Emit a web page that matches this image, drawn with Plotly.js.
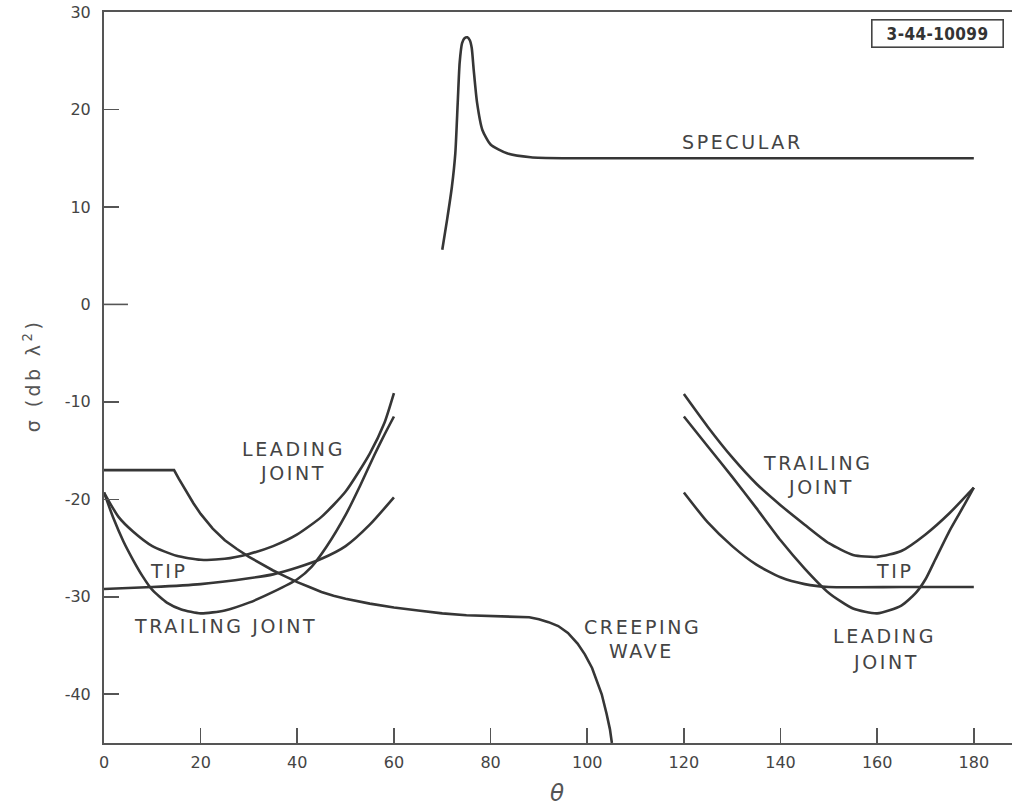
<!DOCTYPE html>
<html><head><meta charset="utf-8">
<script src="https://cdn.plot.ly/plotly-3.0.1.min.js"></script>
<style>
body{margin:0;background:#fff}
#chart{width:1012px;height:807px}
.annotation-text{letter-spacing:2.6px}
.annotation[data-index="0"] .annotation-text{letter-spacing:0.4px}
.annotation[data-index="13"] .annotation-text{letter-spacing:3.4px}
</style></head><body><div id="chart"></div>
<script>
// ---- data (theta in degrees, sigma in db lambda^2) ----
const specularX = [70, 71, 72, 72.7, 73.2, 73.6, 74.1, 74.6, 75.2, 75.7, 76.1, 76.5, 77.2, 78.3, 80, 83.4, 88.3, 95, 120, 150, 180];
const specularY = [5.6, 8.7, 12.1, 15.5, 20.7, 24.8, 26.8, 27.3, 27.4, 27.1, 26.3, 24.1, 20.7, 17.9, 16.4, 15.5, 15.1, 15.0, 15.0, 15.0, 15.0];

const creepingX = [0, 14.5, 15.5, 17, 18.5, 20, 22.5, 25, 27.5, 30, 32.5, 35, 37.5, 40, 42.5, 45, 47.5, 50, 55, 60, 65, 70, 75, 80, 85, 88, 90, 92, 94, 96, 98, 99.5, 101, 102, 103, 104, 104.7, 105.1];
const creepingY = [-17, -17, -17.9, -19.2, -20.4, -21.5, -23.0, -24.2, -25.1, -25.9, -26.6, -27.3, -27.9, -28.5, -29.0, -29.5, -29.9, -30.2, -30.7, -31.1, -31.4, -31.7, -31.9, -32.0, -32.05, -32.1, -32.3, -32.6, -33.0, -33.7, -34.8, -35.9, -37.3, -38.6, -40.0, -42.0, -43.6, -45];

const leadingLeftX = [0, 3, 6, 10, 15, 20, 25, 30, 35, 40, 45, 50, 55, 58, 60];
const leadingLeftY = [-19.3, -21.8, -23.3, -24.8, -25.8, -26.2, -26.1, -25.6, -24.8, -23.6, -21.8, -19.2, -15.3, -12.2, -9.1];

const trailingLeftX = [0, 2, 4, 6, 8, 10, 13, 16, 20, 25, 30, 35, 40, 43, 46, 50, 53, 56, 58, 60];
const trailingLeftY = [-19.3, -22.0, -24.3, -26.2, -27.9, -29.3, -30.6, -31.3, -31.7, -31.4, -30.6, -29.5, -28.2, -26.9, -24.9, -21.6, -18.6, -15.4, -13.4, -11.5];

const tipLeftX = [0, 10, 20, 30, 35, 40, 45, 50, 55, 60];
const tipLeftY = [-29.2, -29.0, -28.7, -28.1, -27.7, -27.0, -26.1, -24.8, -22.6, -19.8];

const trailingRightX = [120, 125, 130, 135, 140, 145, 150, 155, 160, 165, 170, 175, 180];
const trailingRightY = [-9.2, -12.6, -15.7, -18.4, -20.6, -22.6, -24.5, -25.7, -25.9, -25.3, -23.6, -21.4, -18.8];

const leadingRightX = [120, 125, 130, 135, 140, 145, 150, 155, 160, 165, 168, 170, 172, 175, 178, 180];
const leadingRightY = [-11.5, -14.6, -17.7, -20.9, -24.2, -27.1, -29.6, -31.2, -31.7, -30.9, -29.6, -28.2, -26.2, -23.2, -20.6, -18.8];

const tipRightX = [120, 125, 130, 135, 140, 145, 150, 165, 180];
const tipRightY = [-19.3, -22.4, -24.8, -26.7, -28.0, -28.7, -29.0, -29.0, -29.0];

const xTickVals = [0, 20, 40, 60, 80, 100, 120, 140, 160, 180];
const xTickText = ["0", "20", "40", "60", "80", "100", "120", "140", "160", "180"];
const yTickVals = [-40, -30, -20, -10, 0, 10, 20, 30];
const yTickText = ["-40", "-30", "-20", "-10", "0", "10", "20", "30"];

// ---- drawing ----
const INK = '#363636';
const FONT = 'DejaVu Sans, Verdana, sans-serif';
function curve(name, x, y, shape) {
  return {type: 'scatter', mode: 'lines', name: name, x: x, y: y,
          line: {color: INK, width: 2.6, shape: shape || 'spline', smoothing: 0.6},
          hoverinfo: 'skip'};
}
const traces = [
  curve('Specular', specularX, specularY),
  curve('Creeping wave', creepingX, creepingY, 'linear'),
  curve('Leading joint (0-60)', leadingLeftX, leadingLeftY),
  curve('Trailing joint (0-60)', trailingLeftX, trailingLeftY),
  curve('Tip (0-60)', tipLeftX, tipLeftY),
  curve('Trailing joint (120-180)', trailingRightX, trailingRightY),
  curve('Leading joint (120-180)', leadingRightX, leadingRightY),
  curve('Tip (120-180)', tipRightX, tipRightY)
];

function lbl(text, x, y) {
  return {text: text, x: x, y: y, xref: 'x', yref: 'y', showarrow: false,
          xanchor: 'center', yanchor: 'middle',
          font: {family: FONT, size: 19, color: '#444'}};
}
const annotations = [
  {text: '<b>3-44-10099</b>', x: 0.918, y: 0.971, xref: 'paper', yref: 'paper', showarrow: false,
   xanchor: 'center', yanchor: 'middle', bordercolor: '#444', borderwidth: 1.6, borderpad: 3,
   font: {family: 'DejaVu Sans Condensed, DejaVu Sans, sans-serif', size: 17, color: '#333'}},
  lbl('SPECULAR', 132.2, 16.7),
  lbl('LEADING', 39.2, -14.8),
  lbl('JOINT', 39.2, -17.3),
  lbl('TIP', 13.3, -27.4),
  lbl('TRAILING JOINT', 25.1, -33.0),
  lbl('CREEPING', 111.5, -33.1),
  lbl('WAVE', 111.2, -35.6),
  lbl('TRAILING', 147.8, -16.3),
  lbl('JOINT', 148.3, -18.7),
  lbl('TIP', 163.5, -27.4),
  lbl('LEADING', 161.5, -34.0),
  lbl('JOINT', 161.8, -36.7),
  {text: 'σ (db λ<sup>2</sup>)', x: -0.079, y: 0.503, xref: 'paper', yref: 'paper', showarrow: false,
   textangle: -90, xanchor: 'center', yanchor: 'middle',
   font: {family: FONT, size: 19, color: '#555'}},
  {text: '<i>θ</i>', x: 0.5, y: -0.068, xref: 'paper', yref: 'paper', showarrow: false,
   xanchor: 'center', yanchor: 'middle',
   font: {family: FONT, size: 23, color: '#555'}}
];

const layout = {
  width: 1012, height: 807,
  margin: {l: 104, r: 0, t: 12, b: 64},
  paper_bgcolor: '#fff', plot_bgcolor: '#fff',
  showlegend: false,
  xaxis: {range: [0, 187.9], showline: true, linecolor: '#555', linewidth: 2, mirror: true,
          ticks: 'inside', ticklen: 15, tickwidth: 1.6, tickcolor: '#555',
          tickvals: xTickVals, ticktext: xTickText, ticklabelstandoff: 4,
          tickfont: {family: FONT, size: 16, color: '#444'},
          showgrid: false, zeroline: false, fixedrange: true},
  yaxis: {range: [-45, 30], showline: true, linecolor: '#555', linewidth: 2,
          ticks: 'inside', ticklen: 15, tickwidth: 1.6, tickcolor: '#555',
          tickvals: yTickVals, ticktext: yTickText, ticklabelstandoff: 8,
          tickfont: {family: FONT, size: 16, color: '#444'},
          showgrid: false, zeroline: false, fixedrange: true},
  shapes: [
    {type: 'line', xref: 'paper', yref: 'y', x0: 0, x1: 0.0264, y0: 0, y1: 0,
     line: {color: '#555', width: 1.6}}
  ],
  annotations: annotations
};

Plotly.newPlot('chart', traces, layout, {displayModeBar: false, staticPlot: true});
</script></body></html>
